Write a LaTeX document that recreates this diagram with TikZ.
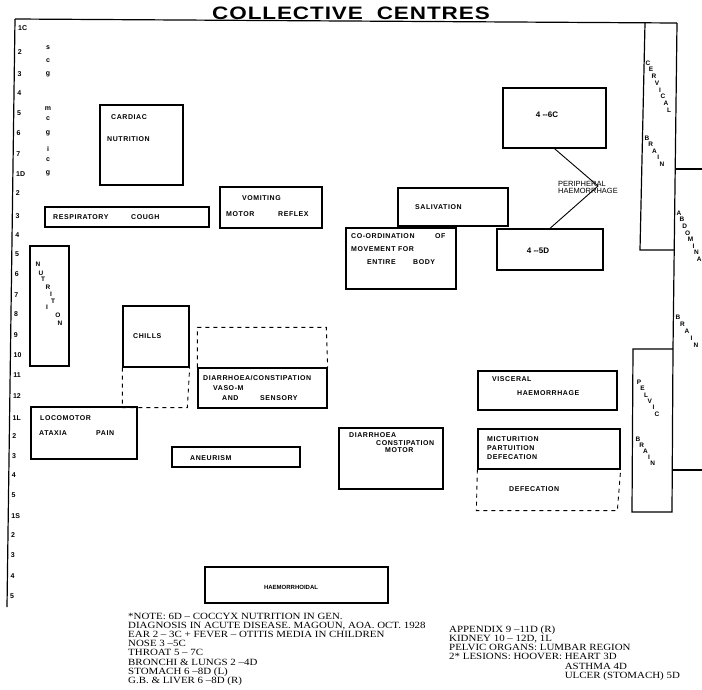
\documentclass[tikz,border=0pt]{standalone}
\usepackage{fontspec}
\setmainfont{Liberation Serif}
\newfontfamily\etikett{Liberation Sans}
\usetikzlibrary{fit}

\tikzset{
    kasten/.style={draw, line width=1.3pt, inner sep=0pt},
    gestrichelt/.style={line width=0.9pt, dash pattern=on 4pt off 4pt},
    rahmen/.style={line width=1.2pt},
    lbl/.style={font=\etikett\bfseries\fontsize{7}{8}\selectfont\addfontfeature{LetterSpace=8}, inner sep=0pt, anchor=west, text depth=0pt},
    achse/.style={font=\etikett\bfseries\fontsize{7}{7}\selectfont, inner sep=0pt, anchor=west, text depth=0pt},
    buchst/.style={font=\etikett\bfseries\fontsize{6.5}{6.5}\selectfont, inner sep=0pt, text depth=0pt},
    notiz/.style={font=\fontsize{9.5}{9.2}\selectfont\addfontfeature{FakeStretch=1.15}, inner sep=0pt, anchor=north west, align=left}
}

\begin{document}
\begin{tikzpicture}[x=1pt, y=-1pt]
    \useasboundingbox (0,0) rectangle (702,689);

    % Ueberschrift
    \node[font=\etikett\bfseries\fontsize{18}{18}\selectfont\addfontfeature{FakeStretch=1.25,LetterSpace=5}, inner sep=0pt, text depth=0pt] (titel) at (351,13) {COLLECTIVE\hspace{14pt}CENTRES};

    % Rahmen links/oben und rechte Spalte
    \draw[rahmen] (15,19) -- (677,23);
    \draw[rahmen] (15,19) -- (7,607);
    \draw[rahmen] (645,23) -- (640,250) -- (674,250);
    \draw[rahmen] (677,23) -- (673,349) -- (672,512) -- (632,512) -- (633,349) -- (673,349);
    \draw[rahmen] (675,169) -- (702,169);
    \draw[rahmen] (672,470) -- (702,470);

    % Segmente links (Achse)
    \foreach \yPos/\marke in {28/1C, 52/2, 74/3, 93/4, 113/5, 133/6, 154/7, 174/1D, 193/2, 216/3,
                              235/4, 254/5, 274/6, 295/7, 314/8, 335/9, 355/10, 375/11, 396/12,
                              418/1L, 436/2, 456/3, 475/4, 495/5, 516/1S, 535/2, 555/3, 576/4, 596/5}
        {
            \node[achse] (achse\yPos) at ({18-0.014*(\yPos-28)},\yPos) {\marke};
        }

    % Ganglien (scg, mcg, icg)
    \foreach \yPos/\b in {48/s, 61/c, 74/g, 109/m, 119/c, 133/g, 149/i, 160/c, 173/g}
        {
            \node[buchst, font=\etikett\bfseries\fontsize{7}{7}\selectfont] (gang\yPos) at (48,\yPos) {\b};
        }

    % Kaesten
    \foreach \name/\xl/\yo/\xr/\yu in {cardiac/100/105/183/185, resp/45/207/209/227, vomit/220/187/322/228,
                                       saliv/398/188/508/226, coord/346/228/456/289, c46/503/88/606/148,
                                       d45/497/229/603/270, nutr/30/246/69/366, chills/123/306/189/367,
                                       diar/198/368/327/408, loco/31/407/137/459, aneu/172/447/300/467,
                                       motor/339/428/443/489, visc/478/371/617/410, mict/478/429/620/469,
                                       haem/205/567/388/603}
        {
            \node[kasten, fit={(\xl,\yo) (\xr,\yu)}] (k\name) {};
        }

    % gestrichelte Erweiterungen
    \draw[gestrichelt] (kchills.south west) -- ++(0,40) -- ++(65,0) -- (kchills.south east);
    \draw[gestrichelt] (kdiar.north west) -- ++(0,-40) -- ++(129,0) -- (kdiar.north east);
    \draw[gestrichelt] (kmict.south west) -- ++(-1,41) -- ++(141,0) -- (kmict.south east);

    % Beschriftung der Kaesten
    \foreach \name/\xPos/\yPos/\wort in {cardiacA/111/117/CARDIAC, cardiacB/107/139/NUTRITION,
                                         respA/53/217/RESPIRATORY, respB/131/217/COUGH,
                                         vomitA/242/198/VOMITING, vomitB/226/214/MOTOR, vomitC/278/214/REFLEX,
                                         saliv/415/207/SALIVATION,
                                         coordA/351/236/CO-ORDINATION, coordB/435/236/OF, coordC/351/249/MOVEMENT FOR,
                                         coordD/367/262/ENTIRE, coordE/413/262/BODY,
                                         chills/133/336/CHILLS,
                                         diarA/203/378/{DIARRHOEA/CONSTIPATION}, diarB/213/388/VASO-M,
                                         diarC/222/398/AND, diarD/260/398/SENSORY,
                                         locoA/40/418/LOCOMOTOR, locoB/39/433/ATAXIA, locoC/96/433/PAIN,
                                         aneu/190/458/ANEURISM,
                                         motorA/349/435/DIARRHOEA, motorB/376/443/CONSTIPATION, motorC/385/450/MOTOR,
                                         viscA/492/379/VISCERAL, viscB/517/393/HAEMORRHAGE,
                                         mictA/487/439/MICTURITION, mictB/487/448/PARTUITION, mictC/487/457/DEFECATION,
                                         defec/509/489/DEFECATION}
        {
            \node[lbl] (t\name) at (\xPos,\yPos) {\wort};
        }
    \node[lbl, font=\etikett\bfseries\fontsize{6}{6}\selectfont, anchor=center] (thaem) at (291,587) {HAEMORRHOIDAL};
    \node[lbl, font=\etikett\bfseries\fontsize{8}{8}\selectfont, anchor=center] (tc46) at (547,115) {4 --6C};
    \node[lbl, font=\etikett\bfseries\fontsize{8}{8}\selectfont, anchor=center] (td45) at (538,251) {4 --5D};

    % periphere Blutung
    \node[lbl, font=\etikett\fontsize{7.5}{7.5}\selectfont] (tperiA) at (558,184) {PERIPHERAL};
    \node[lbl, font=\etikett\fontsize{7.5}{7.5}\selectfont] (tperiB) at (558,191) {HAEMORRHAGE};
    \coordinate (knick) at (598,186);
    \draw[line width=0.9pt] (kc46.south) -- (knick) -- (kd45.north);

    % senkrechte Schriften
    \foreach \xPos/\yPos/\b [count=\i] in {38/264/N, 41/273/U, 43/279/T, 48/287/R, 51/294/I,
                                            53/301/T, 47/307/I, 58/315/O, 60/323/N}
        {
            \node[buchst] (nutr\i) at (\xPos,\yPos) {\b};
        }
    \foreach \b [count=\i from 0] in {C,E,R,V,I,C,A,L}
        \node[buchst] (cerv\i) at (648+3*\i,63+6.7*\i) {\b};
    \foreach \b [count=\i from 0] in {B,R,A,I,N}
        \node[buchst] (cbrain\i) at (647+3.75*\i,138+6.5*\i) {\b};
    \foreach \b [count=\i from 0] in {A,B,D,O,M,I,N,A}
        \node[buchst] (abd\i) at (679+2.9*\i,213+6.6*\i) {\b};
    \foreach \b [count=\i from 0] in {B,R,A,I,N}
        \node[buchst] (abrain\i) at (678+4.5*\i,317+7*\i) {\b};
    \foreach \b [count=\i from 0] in {P,E,L,V,I,C}
        \node[buchst] (pelv\i) at (639+3.6*\i,382+6.4*\i) {\b};
    \foreach \b [count=\i from 0] in {B,R,A,I,N}
        \node[buchst] (pbrain\i) at (638+3.7*\i,439+6*\i) {\b};

    % Anmerkungen unten
    \node[notiz] (notizA) at (128,612.5) {*NOTE: 6D -- COCCYX NUTRITION IN GEN.\\
        DIAGNOSIS IN ACUTE DISEASE. MAGOUN, AOA. OCT. 1928\\
        EAR 2 -- 3C + FEVER -- OTITIS MEDIA IN CHILDREN\\
        NOSE 3 --5C\\
        THROAT 5 -- 7C\\
        BRONCHI \& LUNGS 2 --4D\\
        STOMACH 6 --8D (L)\\
        G.B. \& LIVER 6 --8D (R)};
    \node[notiz] (notizB) at (449,625.5) {APPENDIX 9 --11D (R)\\
        KIDNEY 10 -- 12D, 1L\\
        PELVIC ORGANS: LUMBAR REGION\\
        2* LESIONS: HOOVER: HEART 3D\\
        \phantom{2* LESIONS: HOOVER: }ASTHMA 4D\\
        \phantom{2* LESIONS: HOOVER: }ULCER (STOMACH) 5D};
\end{tikzpicture}
\end{document}
